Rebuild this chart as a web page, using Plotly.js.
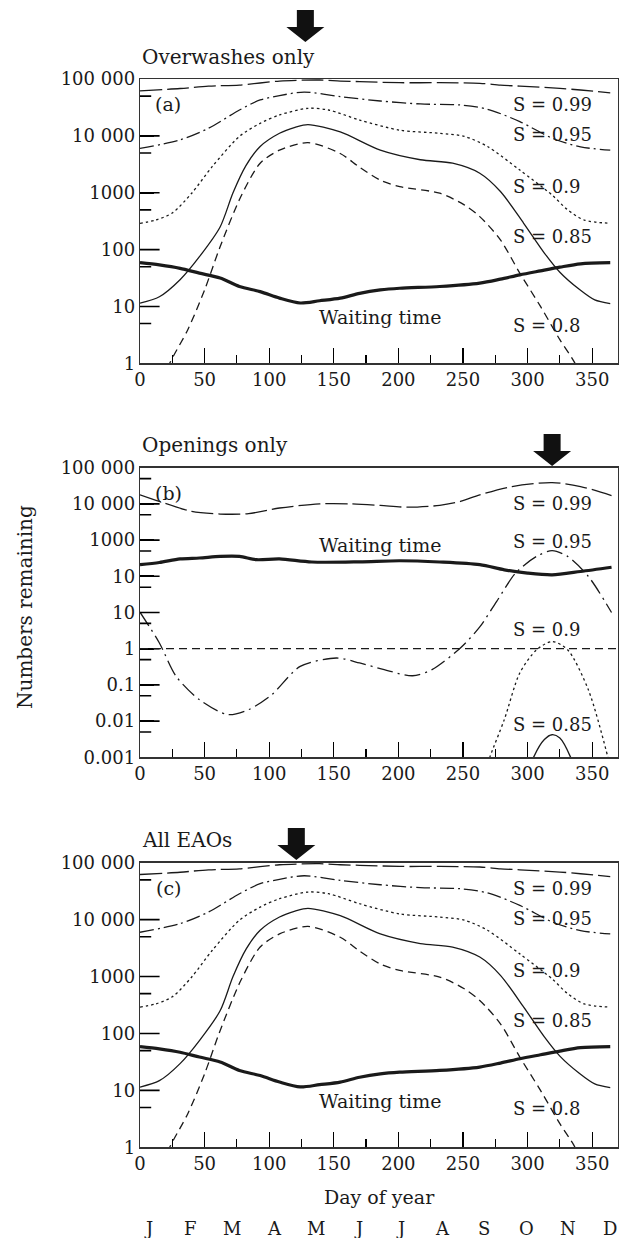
<!DOCTYPE html>
<html>
<head>
<meta charset="utf-8">
<script src="https://cdn.plot.ly/plotly-3.0.1.min.js"></script>
<style>html,body{margin:0;padding:0;background:#fff;}#chart{width:627px;height:1238px;}</style>
</head>
<body>
<div id="chart"></div>
<script>
// ---------- Panel (a) Overwashes only, and (c) All EAOs (same curves) ----------
const s99aDays = [0, 31, 53, 77, 108, 139, 155, 170, 201, 232, 263, 279, 294, 325, 341, 364];
const s99aVals = [62000, 68000, 75000, 78000, 92000, 96000, 92000, 90000, 86000, 86000, 84000, 78000, 75000, 68500, 64000, 57000];

const s95aDays = [0, 31, 53, 77, 93, 108, 127, 155, 186, 217, 248, 269, 294, 320, 341, 364];
const s95aVals = [6000, 8500, 13600, 28500, 42800, 51000, 59000, 48900, 41000, 36400, 34900, 29400, 17800, 8900, 6400, 5600];

const s90aDays = [0, 12, 25, 40, 56, 77, 93, 108, 130, 146, 170, 201, 232, 251, 269, 294, 319, 331, 344, 364];
const s90aVals = [290, 330, 440, 980, 2900, 9800, 16600, 23300, 30500, 28500, 19000, 12600, 11100, 9800, 6500, 2500, 910, 500, 330, 290];

const s85aDays = [0, 15, 31, 46, 62, 72, 82, 93, 108, 120, 130, 155, 186, 217, 242, 263, 279, 297, 313, 325, 340, 352, 364];
const s85aVals = [11.4, 14.8, 29.5, 75, 250, 1000, 3000, 6500, 11100, 14100, 15800, 11700, 5600, 3800, 3300, 2200, 1050, 290, 87, 40, 20, 13, 11.2];

const s80aDays = [18, 23, 37, 50, 62, 78, 93, 108, 130, 155, 170, 186, 201, 232, 251, 263, 279, 294, 310, 325, 336, 341];
const s80aVals = [0.5, 1.0, 3.9, 19.5, 112, 850, 3300, 5600, 7600, 4900, 2800, 1660, 1280, 980, 610, 380, 148, 38.5, 10, 2.6, 1.07, 0.6];

const waitaDays = [0, 15, 31, 46, 62, 77, 93, 108, 124, 139, 155, 170, 186, 201, 232, 263, 279, 294, 310, 325, 341, 364];
const waitaVals = [58.9, 53.7, 46.8, 38.5, 31.6, 22.4, 18.2, 14.0, 11.5, 12.6, 14.0, 17.0, 19.5, 20.9, 22.4, 25.7, 30.2, 35.9, 42.2, 49.0, 56.2, 58.9];

// ---------- Panel (b) Openings only ----------
const s99bDays = [0, 15, 40, 62, 84, 108, 139, 164, 186, 207, 232, 248, 263, 288, 319, 341, 365];
const s99bVals = [17900, 11700, 6200, 5250, 5370, 7700, 10000, 10000, 9100, 8100, 9100, 11700, 17800, 30200, 38900, 30200, 17000];

const waitbDays = [0, 15, 31, 46, 62, 77, 90, 108, 133, 170, 201, 232, 263, 282, 300, 319, 341, 365];
const waitbVals = [209, 240, 302, 320, 355, 355, 288, 302, 248, 251, 269, 248, 209, 151, 123, 110, 136, 178];

const s95bDays = [0, 15, 28, 46, 68, 84, 102, 124, 152, 170, 189, 211, 226, 248, 263, 276, 291, 307, 319, 331, 347, 365];
const s95bVals = [10.2, 1.44, 0.172, 0.039, 0.0151, 0.0207, 0.0537, 0.324, 0.553, 0.403, 0.263, 0.179, 0.263, 1.05, 4.0, 20, 126, 355, 513, 355, 100, 10];

const s90bDays = [268, 271, 282, 294, 307, 319, 331, 347, 362, 364];
const s90bVals = [0.0005, 0.00106, 0.011, 0.214, 0.933, 1.58, 0.933, 0.0741, 0.00106, 0.0005];

const s85bDays = [302, 305, 313, 319, 325, 333, 336];
const s85bVals = [0.0005, 0.00106, 0.0031, 0.0042, 0.0034, 0.00106, 0.0005];

const thresholdB = 1;

// ---------- ticks / labels ----------
const xTickVals = [0, 50, 100, 150, 200, 250, 300, 350];
const xMinorVals = [25, 75, 125, 175, 225, 275, 325];
const yTickValsA = [1, 10, 100, 1000, 10000, 100000];
const yTickTextA = ['1', '10', '100', '1000', '10 000', '100 000'];
const yMinorA = [5, 50, 500, 5000, 50000];
const yTickValsB = [0.001, 0.01, 0.1, 1, 10, 100, 1000, 10000, 100000];
const yTickTextB = ['0.001', '0.01', '0.1', '1', '10', '10', '1000', '10 000', '100 000'];
const yMinorB = [0.005, 0.05, 0.5, 5, 50, 500, 5000, 50000];
const months = ['J', 'F', 'M', 'A', 'M', 'J', 'J', 'A', 'S', 'O', 'N', 'D'];
const panelTitles = ['Overwashes only', 'Openings only', 'All EAOs'];
const panelLetters = ['(a)', '(b)', '(c)'];
const arrowDays = [128, 319, 121];
const sLabelsAC = ['S = 0.99', 'S = 0.95', 'S = 0.9', 'S = 0.85', 'S = 0.8'];
const sLabelsB = ['S = 0.99', 'S = 0.95', 'S = 0.9', 'S = 0.85'];

// ---------- styling ----------
const FONT = 'DejaVu Serif, serif';
const INK = '#1a1a1a';
const W = 627, H = 1238, L = 140, R = 9;
const PW = W - L - R;
const px2x = p => (p - L) / PW;
const py2y = p => 1 - p / H;

const styles = {
  s99: {color: INK, width: 1.3, dash: '22px,5px'},
  s95: {color: INK, width: 1.3, dash: '14px,4px,2px,4px'},
  s90: {color: INK, width: 1.3, dash: '2.5px,3px'},
  s85: {color: INK, width: 1.3},
  s80: {color: INK, width: 1.3, dash: '8px,5px'},
  wait: {color: INK, width: 3.2}
};

function tr(x, y, st, xa, ya) {
  return {x: x, y: y, type: 'scatter', mode: 'lines', xaxis: xa, yaxis: ya,
    line: Object.assign({shape: 'spline', smoothing: 0.8}, st), hoverinfo: 'skip', showlegend: false};
}

const traces = [];
[['x', 'y'], ['x3', 'y3']].forEach(([xa, ya]) => {
  traces.push(tr(s99aDays, s99aVals, styles.s99, xa, ya));
  traces.push(tr(s95aDays, s95aVals, styles.s95, xa, ya));
  traces.push(tr(s90aDays, s90aVals, styles.s90, xa, ya));
  traces.push(tr(s85aDays, s85aVals, styles.s85, xa, ya));
  traces.push(tr(s80aDays, s80aVals, styles.s80, xa, ya));
  traces.push(tr(waitaDays, waitaVals, styles.wait, xa, ya));
});
traces.push(tr(s99bDays, s99bVals, styles.s99, 'x2', 'y2'));
traces.push(tr(waitbDays, waitbVals, styles.wait, 'x2', 'y2'));
traces.push(tr(s95bDays, s95bVals, Object.assign({}, styles.s95, {dash: '16px,5px,2px,5px'}), 'x2', 'y2'));
traces.push(tr(s90bDays, s90bVals, styles.s90, 'x2', 'y2'));
traces.push(tr(s85bDays, s85bVals, styles.s85, 'x2', 'y2'));

// y tick marks on the left axis line: horizontal line markers centred on the axis, clipped to the plot
function yTickTrace(vals, size, xa, ya) {
  return {x: vals.map(() => xTickVals[0]), y: vals, type: 'scatter', mode: 'markers',
    xaxis: xa, yaxis: ya, cliponaxis: true, hoverinfo: 'skip', showlegend: false,
    marker: {symbol: 'line-ew', size: size, color: 'black', line: {color: 'black', width: 1.6}}};
}
traces.push(yTickTrace(yTickValsA.slice(1, -1), 28, 'x', 'y'));
traces.push(yTickTrace(yMinorA, 16, 'x', 'y'));
traces.push(yTickTrace(yTickValsB.slice(1, -1), 28, 'x2', 'y2'));
traces.push(yTickTrace(yMinorB, 16, 'x2', 'y2'));
traces.push(yTickTrace(yTickValsA.slice(1, -1), 28, 'x3', 'y3'));
traces.push(yTickTrace(yMinorA, 16, 'x3', 'y3'));

function xAxis(anchor) {
  return {
    anchor: anchor, domain: [0, 1], range: [0, 370], tickmode: 'array', tickvals: xTickVals,
    ticks: 'inside', ticklen: 15, tickwidth: 1.3, tickcolor: 'black',
    minor: {ticks: 'inside', tickmode: 'array', tickvals: xMinorVals, ticklen: 8, tickwidth: 1.2, tickcolor: 'black'},
    showline: true, linecolor: '#333', linewidth: 1.3, mirror: true,
    showgrid: false, zeroline: false, tickfont: {family: FONT, size: 18, color: INK}
  };
}
function yAxis(anchor, domain, range, vals, text) {
  return {
    anchor: anchor, domain: domain, type: 'log', range: range, tickmode: 'array',
    tickvals: vals, ticktext: text,
    ticks: 'inside', ticklen: 14, tickwidth: 1.6, tickcolor: 'black',
    showline: true, linecolor: '#333', linewidth: 1.3, mirror: true,
    showgrid: false, zeroline: false,
    tickfont: {family: FONT, size: 18, color: INK}
  };
}

const domA = [py2y(363.3), py2y(79)];
const domB = [py2y(757.3), py2y(467.7)];
const domC = [py2y(1147.3), py2y(862.7)];

const ann = [];
function addText(text, x, y, xref, yref, size, xanchor, extra) {
  ann.push(Object.assign({text: text, x: x, y: y, xref: xref, yref: yref, showarrow: false,
    xanchor: xanchor || 'center', yanchor: 'middle', font: {family: FONT, size: size, color: INK}}, extra || {}));
}
// panel titles
addText(panelTitles[0], 0, py2y(57), 'paper', 'paper', 20, 'left');
addText(panelTitles[1], 0, py2y(445), 'paper', 'paper', 20, 'left');
addText(panelTitles[2], 0, py2y(840), 'paper', 'paper', 20, 'left');
// panel letters
addText(panelLetters[0], 22, 4.56, 'x', 'y', 19);
addText(panelLetters[1], 22, 4.29, 'x2', 'y2', 19);
addText(panelLetters[2], 22, 4.56, 'x3', 'y3', 19);
// S labels (a) and (c)
const sPosAC = [4.555, 4.016, 3.106, 2.226, 0.673];
[['x', 'y'], ['x3', 'y3']].forEach(([xa, ya]) => {
  sLabelsAC.forEach((t, i) => addText(t, 287, sPosAC[i], xa, ya, 18, 'left'));
  addText('Waiting time', 186, 0.82, xa, ya, 19);
});
const sPosB = [4.017, 2.975, 0.517, -2.08];
sLabelsB.forEach((t, i) => addText(t, 287, sPosB[i], 'x2', 'y2', 18, 'left'));
addText('Waiting time', 186, 2.865, 'x2', 'y2', 19);
// axis titles
addText('Numbers remaining', px2x(25), py2y(607), 'paper', 'paper', 20, 'center', {textangle: -90});
addText('Day of year', 0.5, py2y(1197), 'paper', 'paper', 19);
// month letters
months.forEach((m, i) => addText(m, px2x(148 + 42 * i), py2y(1228), 'paper', 'paper', 18));

// arrows
const arrowPath = 'M 0 0 L -19 15 L -8.5 15 L -8.5 32 L 8.5 32 L 8.5 15 L 19 15 Z';
const arrowTips = [py2y(42), py2y(466), py2y(860)];
const shapes = arrowDays.map((d, i) => ({
  type: 'path', xref: ['x', 'x2', 'x3'][i], yref: 'paper',
  xsizemode: 'pixel', xanchor: d, ysizemode: 'pixel', yanchor: arrowTips[i],
  path: arrowPath, fillcolor: '#111', line: {width: 0}
}));
shapes.push({type: 'line', xref: 'x2 domain', yref: 'y2', x0: 0, x1: 1, y0: thresholdB, y1: thresholdB,
  line: {color: INK, width: 1.3, dash: '8px,5px'}});

const layout = {
  width: W, height: H, margin: {l: L, r: R, t: 0, b: 0, pad: 0},
  paper_bgcolor: '#fff', plot_bgcolor: '#fff', showlegend: false,
  font: {family: FONT, color: INK},
  xaxis: xAxis('y'), xaxis2: xAxis('y2'), xaxis3: xAxis('y3'),
  yaxis: yAxis('x', domA, [0, 5], yTickValsA, yTickTextA),
  yaxis2: yAxis('x2', domB, [-3, 5], yTickValsB, yTickTextB),
  yaxis3: yAxis('x3', domC, [0, 5], yTickValsA, yTickTextA),
  annotations: ann, shapes: shapes
};

Plotly.newPlot('chart', traces, layout, {staticPlot: true, displayModeBar: false});
</script>
</body>
</html>
